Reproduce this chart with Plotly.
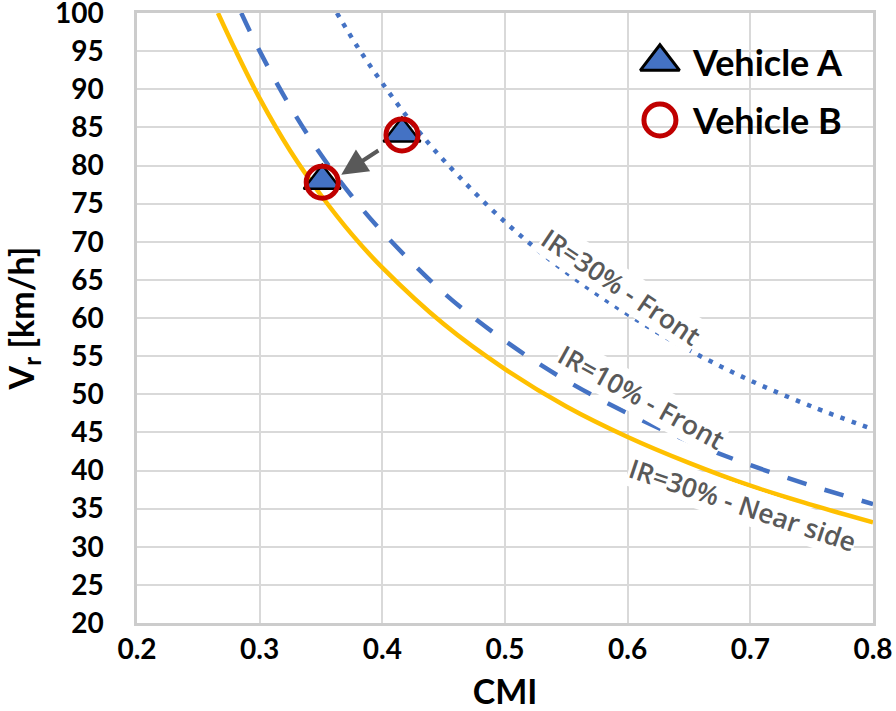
import plotly.graph_objects as go

# ---------------- data ----------------
x_tick_vals = [0.2, 0.3, 0.4, 0.5, 0.6, 0.7, 0.8]
y_tick_vals = [20, 25, 30, 35, 40, 45, 50, 55, 60, 65, 70, 75, 80, 85, 90, 95, 100]

# IR=30% - Near side (solid yellow)
near_side_cmi = [0.266, 0.28, 0.30, 0.325, 0.35, 0.375, 0.40, 0.45, 0.50, 0.55, 0.60, 0.65, 0.70, 0.75, 0.80]
near_side_v = [100, 95.2, 88.8, 81.9, 76.1, 71.0, 66.6, 59.2, 53.3, 48.4, 44.4, 41.0, 38.0, 35.5, 33.2]

# IR=10% - Front (dashed blue)
front10_cmi = [0.285, 0.30, 0.325, 0.35, 0.375, 0.40, 0.45, 0.50, 0.55, 0.60, 0.65, 0.70, 0.75, 0.80]
front10_v = [100, 95.0, 87.7, 81.4, 76.0, 71.3, 63.3, 57.0, 51.8, 47.5, 43.8, 40.7, 38.0, 35.6]

# IR=30% - Front (dotted blue)
front30_cmi = [0.363, 0.38, 0.40, 0.425, 0.45, 0.50, 0.55, 0.60, 0.65, 0.70, 0.75, 0.80]
front30_v = [100, 95.5, 90.8, 85.4, 80.7, 72.6, 66.0, 60.5, 55.8, 51.8, 48.4, 45.4]

# Vehicles
vehicle_a_cmi = [0.416, 0.351]
vehicle_a_v = [84.2, 78.0]
vehicle_b_cmi = [0.416, 0.351]
vehicle_b_v = [84.0, 77.8]

# arrow (tail -> head)
arrow_tail = (0.398, 82.1)
arrow_head = (0.3665, 78.8)

# curve labels: text, x, y, angle
curve_labels = ["IR=30% - Front", "IR=10% - Front", "IR=30% - Near side"]
curve_label_x = [0.595, 0.611, 0.694]
curve_label_y = [64.1, 49.6, 35.5]
curve_label_angle = [34, 29, 18.5]

legend_names = ["Vehicle A", "Vehicle B"]

# ---------------- style ----------------
FONT = "Lato"
LABEL_FONT = "Open Sans"
BLUE = "#4472C4"
YELLOW = "#FFC000"
RED = "#C00000"
GRAY_TXT = "#595959"
GRID = "#D9D9D9"

fig = go.Figure()

fig.add_trace(go.Scatter(x=near_side_cmi, y=near_side_v, mode="lines",
                         line=dict(color=YELLOW, width=4.5, shape="spline"),
                         showlegend=False, hoverinfo="skip"))
fig.add_trace(go.Scatter(x=front10_cmi, y=front10_v, mode="lines",
                         line=dict(color=BLUE, width=4.5, shape="spline", dash="20px,19px"),
                         showlegend=False, hoverinfo="skip"))
fig.add_trace(go.Scatter(x=front30_cmi, y=front30_v, mode="lines",
                         line=dict(color=BLUE, width=4.5, shape="spline", dash="4.5px,7.5px"),
                         showlegend=False, hoverinfo="skip"))

tri_marker = dict(symbol="triangle-up", size=32, color=BLUE, line=dict(color="black", width=2.5))
circ_marker = dict(symbol="circle-open", size=32, color=RED, line=dict(color=RED, width=5))
tri_marker_leg = dict(symbol="triangle-up", size=34, color=BLUE, line=dict(color="black", width=3))

fig.add_trace(go.Scatter(x=vehicle_a_cmi, y=vehicle_a_v, mode="markers", name=legend_names[0],
                         marker=tri_marker, showlegend=False))
fig.add_trace(go.Scatter(x=vehicle_b_cmi, y=vehicle_b_v, mode="markers", name=legend_names[1],
                         marker=circ_marker, showlegend=False))

# custom legend drawn on an overlay axis (0..1 over the plot area)
legend_key_x = 0.7105
legend_key_y = [0.920, 0.8246]
legend_text_x = 0.752
fig.add_trace(go.Scatter(x=[legend_key_x], y=[legend_key_y[0]], xaxis="x2", yaxis="y2",
                         mode="markers", marker=tri_marker_leg, showlegend=False, hoverinfo="skip"))
fig.add_trace(go.Scatter(x=[legend_key_x], y=[legend_key_y[1]], xaxis="x2", yaxis="y2",
                         mode="markers", marker=circ_marker, showlegend=False, hoverinfo="skip"))

annotations = []
for name, ly in zip(legend_names, legend_key_y):
    annotations.append(dict(x=legend_text_x, y=ly, xref="x2", yref="y2", text=name,
                            showarrow=False, xanchor="left", yanchor="middle",
                            font=dict(family=FONT, size=36, color="black", weight="bold")))

for t, lx, ly, ang in zip(curve_labels, curve_label_x, curve_label_y, curve_label_angle):
    annotations.append(dict(x=lx, y=ly, xref="x", yref="y", text=t, showarrow=False,
                            textangle=ang, bgcolor="white", borderpad=0,
                            font=dict(family=LABEL_FONT, size=26.5, color=GRAY_TXT, weight=600)))

annotations.append(dict(x=arrow_head[0], y=arrow_head[1], ax=arrow_tail[0], ay=arrow_tail[1],
                        xref="x", yref="y", axref="x", ayref="y", text="", showarrow=True,
                        arrowhead=2, arrowsize=1.3, arrowwidth=4, arrowcolor=GRAY_TXT,
                        standoff=0, startstandoff=0))

fig.update_layout(
    width=896, height=711,
    margin=dict(l=137, r=23, t=13, b=88, autoexpand=False),
    paper_bgcolor="white", plot_bgcolor="white",
    showlegend=False,
    font=dict(family=FONT, color="black"),
    annotations=annotations,
    xaxis=dict(range=[0.2, 0.8], tickvals=x_tick_vals, tickformat=".1f",
               showgrid=True, gridcolor=GRID, gridwidth=2,
               showline=True, linecolor="#CCCCCC", linewidth=2.5, mirror=True,
               zeroline=False, ticks="", ticklabeloverflow="allow",
               tickfont=dict(family=FONT, size=28, color="black", weight="bold"),
               title=dict(text="CMI", standoff=18,
                          font=dict(family=FONT, size=34, color="black", weight="bold"))),
    yaxis=dict(range=[20, 100], tickvals=y_tick_vals,
               showgrid=True, gridcolor=GRID, gridwidth=2,
               showline=True, linecolor="#CCCCCC", linewidth=2.5, mirror=True,
               zeroline=False, ticks="outside", ticklen=25, tickcolor="rgba(0,0,0,0)",
               ticklabeloverflow="allow",
               tickfont=dict(family=FONT, size=28, color="black", weight="bold"),
               title=dict(text="V<sub>r</sub> [km/h]", standoff=16,
                          font=dict(family=FONT, size=34, color="black", weight="bold"))),
    xaxis2=dict(overlaying="x", range=[0, 1], visible=False, anchor="y2"),
    yaxis2=dict(overlaying="y", range=[0, 1], visible=False, anchor="x2"),
)

fig.write_html("out.html", config={"displayModeBar": False},
               post_script="document.body.style.margin='0px';")
